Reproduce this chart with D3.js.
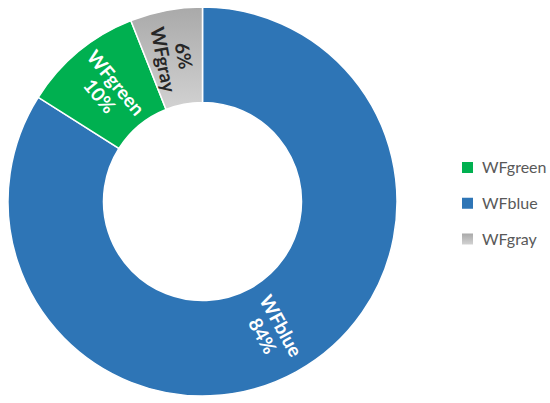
<!DOCTYPE html>
<html>
<head>
<meta charset="utf-8">
<script src="https://cdn.jsdelivr.net/npm/d3@7"></script>
<style>
  html, body { margin: 0; padding: 0; background: #fff; }
  svg { display: block; }
</style>
</head>
<body>
<div id="chart"></div>
<script>
// data
var categories = ["WFblue", "WFgreen", "WFgray"];
var values = [84, 10, 6];
var legendOrder = ["WFgreen", "WFblue", "WFgray"];
// which line comes first in each slice label
var labelFirst = ["name", "name", "pct"];

var w = 550, h = 403;
var cx = 202.5, cy = 201.5, rOuter = 194.5, rInner = 99;

var vis = d3.select("#chart").append("svg")
    .attr("width", w).attr("height", h);

var defs = vis.append("defs");
var grad = defs.append("linearGradient")
    .attr("id", "grayGrad")
    .attr("x1", 0).attr("y1", 0).attr("x2", 0).attr("y2", 1);
grad.append("stop").attr("offset", "0%").attr("stop-color", "#a9a9a9");
grad.append("stop").attr("offset", "100%").attr("stop-color", "#d2d2d2");

var color = d3.scaleOrdinal()
    .domain(categories)
    .range(["#2E75B6", "#00B050", "url(#grayGrad)"]);
var textColor = d3.scaleOrdinal()
    .domain(categories)
    .range(["#ffffff", "#ffffff", "#262626"]);

var rows = categories.map(function(c, i) { return { name: c, value: values[i], first: labelFirst[i] }; });

var pie = d3.pie().sort(null).value(d => d.value);
var arc = d3.arc().innerRadius(rInner).outerRadius(rOuter);

var g = vis.append("g").attr("transform", "translate(" + cx + "," + cy + ")");

g.selectAll("path.slice")
  .data(pie(rows))
  .enter()
  .append("path")
  .attr("class", "slice")
  .attr("d", arc)
  .attr("fill", d => color(d.data.name))
  .attr("stroke", "#fff")
  .attr("stroke-width", 1.5);

// rotated labels, reading along the radius
var labels = g.selectAll("g.lbl")
  .data(pie(rows))
  .enter()
  .append("g")
  .attr("class", "lbl")
  .attr("transform", function(d) {
    var c = arc.centroid(d);
    var mid = (d.startAngle + d.endAngle) / 2 * 180 / Math.PI;
    var rot = mid - 90;
    if (rot > 90) rot -= 180;
    if (rot < -90) rot += 180;
    return "translate(" + c[0] + "," + c[1] + ") rotate(" + rot + ")";
  });

labels.append("text")
  .attr("text-anchor", "middle")
  .attr("font-family", "Lato, 'Open Sans', sans-serif")
  .attr("font-weight", "bold")
  .attr("font-size", 19)
  .attr("fill", d => textColor(d.data.name))
  .selectAll("tspan")
  .data(function(d) {
    var pct = d.data.value + "%";
    return d.data.first == "pct" ? [pct, d.data.name] : [d.data.name, pct];
  })
  .enter()
  .append("tspan")
  .attr("x", 0)
  .attr("y", (t, i) => i == 0 ? -2 : 19)
  .text(t => t);

// legend
var ly = d3.scalePoint().domain(legendOrder).range([167.5, 239]);

var leg = vis.selectAll("g.leg")
  .data(legendOrder)
  .enter()
  .append("g")
  .attr("class", "leg")
  .attr("transform", d => "translate(462," + ly(d) + ")");

leg.append("rect")
  .attr("x", 0).attr("y", -5.5)
  .attr("width", 11).attr("height", 11)
  .attr("fill", d => color(d));

leg.append("text")
  .attr("x", 20).attr("y", 0)
  .attr("dy", "0.35em")
  .attr("font-family", "Lato, 'Open Sans', sans-serif")
  .attr("font-size", 16)
  .attr("fill", "#595959")
  .text(d => d);
</script>
</body>
</html>
